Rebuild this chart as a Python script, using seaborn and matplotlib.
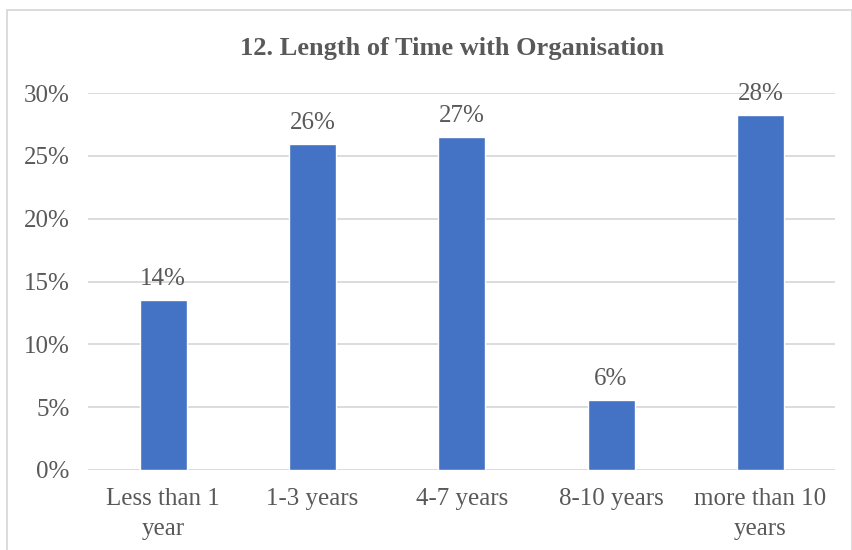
import matplotlib
matplotlib.use("Agg")
import matplotlib.pyplot as plt
import seaborn as sns
import pandas as pd
from matplotlib.patches import Rectangle

categories = ["Less than 1\nyear", "1-3 years", "4-7 years", "8-10 years", "more than 10\nyears"]
values = [13.55, 25.95, 26.5, 5.6, 28.25]
labels = ["14%", "26%", "27%", "6%", "28%"]
yticks = [0, 5, 10, 15, 20, 25, 30]
title = "12. Length of Time with Organisation"

sns.set_theme(style="white")
plt.rcParams['font.family'] = ['Liberation Serif', 'DejaVu Serif']
txt = "#595959"

df = pd.DataFrame({"cat": categories, "val": values})
fig = plt.figure(figsize=(8.53, 5.5), dpi=100)
ax = fig.add_axes([88.5/853, 1 - 470/550, (835 - 88.5)/853, (470 - 93)/550])
sns.barplot(data=df, x="cat", y="val", color="#4472C4", saturation=1, width=0.315, ax=ax)
ax.set_ylim(0, 30)
ax.set_xlim(-0.5, 4.5)
ax.set_yticks(yticks)
ax.set_yticklabels([f"{t}%" for t in yticks], fontsize=18, color=txt)
ax.set_xticks(range(len(categories)))
ax.set_xticklabels(categories, fontsize=18, color=txt, linespacing=1.45)
ax.tick_params(axis='both', length=0)
ax.tick_params(axis='y', pad=13.5)
ax.tick_params(axis='x', pad=13)
ax.set_xlabel("")
ax.set_ylabel("")
ax.yaxis.grid(True, color="#D9D9D9", linewidth=1.3)
ax.set_axisbelow(True)
for s in ax.spines.values():
    s.set_visible(False)
for i, (v, l) in enumerate(zip(values, labels)):
    ax.annotate(l, (i, v), xytext=(0, 7), textcoords="offset points", ha="center", va="bottom",
                fontsize=18, color=txt)
fig.text(452/853, 1 - 48/550, title, ha="center", va="center", fontsize=19, fontweight="bold", color=txt)
fig.patches.append(Rectangle((7/853, -0.05), (852 - 7)/853, 1.05 - 10/550, transform=fig.transFigure,
                             fill=False, edgecolor="#D9D9D9", linewidth=1.3))
fig.savefig("out.png", dpi=100)
